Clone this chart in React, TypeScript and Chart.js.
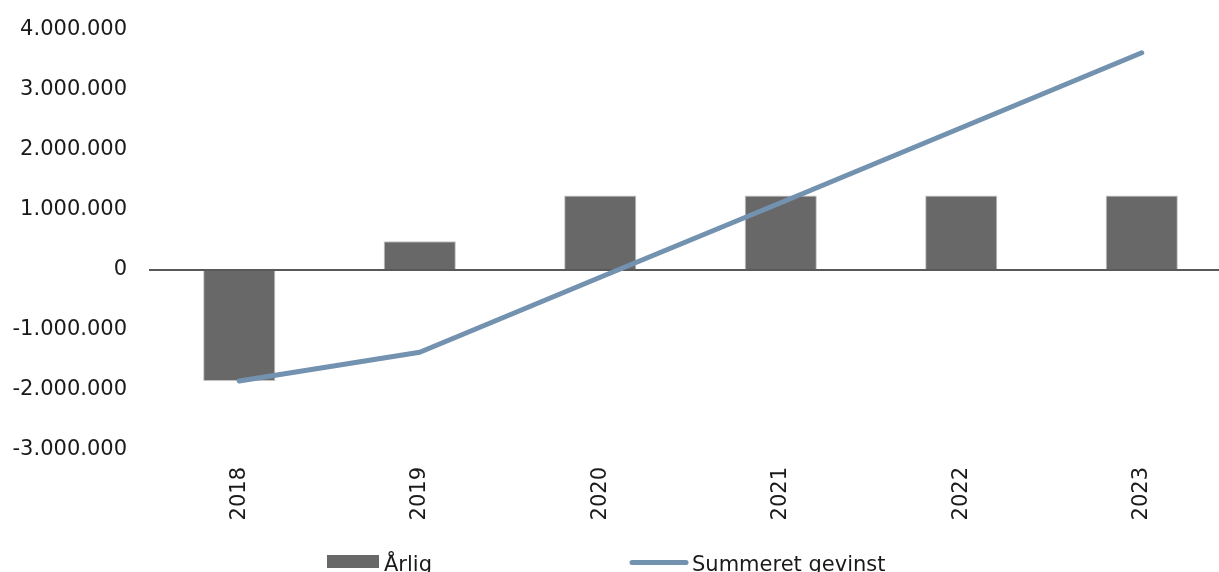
import React, { useEffect, useRef } from 'react';
import { Chart, registerables } from 'chart.js';

Chart.register(...registerables);

const categories = ['2018', '2019', '2020', '2021', '2022', '2023'];
const annualValues = [-1850000, 480000, 1240000, 1240000, 1240000, 1240000];
const cumulativeValues = [-1850000, -1370000, -120000, 1120000, 2370000, 3620000];
const seriesLabels = ['Årlig', 'Summeret gevinst'];
const yMin = -3000000;
const yMax = 4000000;
const yStep = 1000000;

const FONT = 'DejaVu Sans';
const TEXT = '#1a1a1a';
const BAR_COLOR = '#686868';
const LINE_COLOR = '#7392b0';

const fmt = (v: number) => String(v).replace(/\B(?=(\d{3})+(?!\d))/g, '.');

const legendPlugin = {
  id: 'customLegend',
  afterDraw(chart: any) {
    const ctx = chart.ctx as CanvasRenderingContext2D;
    ctx.save();
    ctx.font = `21px "${FONT}"`;
    ctx.fillStyle = TEXT;
    ctx.textBaseline = 'alphabetic';
    let x = 327;
    ctx.fillStyle = BAR_COLOR;
    ctx.fillRect(x, 555, 52, 13);
    x += 57;
    ctx.fillStyle = TEXT;
    ctx.fillText(chart.data.datasets[0].label, x, 571);
    x = 632;
    ctx.strokeStyle = LINE_COLOR;
    ctx.lineWidth = 5;
    ctx.lineCap = 'round';
    ctx.beginPath();
    ctx.moveTo(x, 562.5);
    ctx.lineTo(x + 54, 562.5);
    ctx.stroke();
    ctx.fillText(chart.data.datasets[1].label, 692, 571);
    ctx.restore();
  },
};

export default function App() {
  const ref = useRef<HTMLCanvasElement>(null);

  useEffect(() => {
    document.body.style.margin = '0';
    document.body.style.overflow = 'hidden';
    const canvas = ref.current!;
    const chart = new Chart(canvas, {
      type: 'bar',
      data: {
        labels: categories,
        datasets: [
          {
            type: 'bar',
            label: seriesLabels[0],
            data: annualValues,
            backgroundColor: BAR_COLOR,
            borderColor: '#c4c4c4',
            borderWidth: 1,
            barPercentage: 0.4,
            categoryPercentage: 1,
            order: 1,
          },
          {
            type: 'line',
            label: seriesLabels[1],
            data: cumulativeValues,
            borderColor: LINE_COLOR,
            borderWidth: 5,
            borderCapStyle: 'round',
            borderJoinStyle: 'round',
            pointRadius: 0,
            tension: 0,
            fill: false,
            order: 0,
          } as any,
        ],
      },
      options: {
        animation: false,
        responsive: false,
        devicePixelRatio: 1,
        layout: { padding: { top: 30, left: 0, right: 0, bottom: 0 } },
        plugins: {
          legend: { display: false },
          tooltip: { enabled: false },
        },
        scales: {
          x: {
            grid: { display: false, drawTicks: false },
            border: { display: false },
            ticks: {
              minRotation: 90,
              maxRotation: 90,
              padding: 17,
              color: TEXT,
              font: { family: FONT, size: 21 },
            },
            afterFit: (s: any) => {
              s.height = 122;
            },
          },
          y: {
            min: yMin,
            max: yMax,
            border: { display: false },
            grid: {
              drawTicks: false,
              lineWidth: 2,
              color: (c: any) => (c.tick && c.tick.value === 0 ? '#595959' : 'rgba(0,0,0,0)'),
            },
            ticks: {
              stepSize: yStep,
              padding: 22,
              color: TEXT,
              font: { family: FONT, size: 21 },
              callback: (v: any) => fmt(Number(v)),
            },
            afterFit: (s: any) => {
              s.width = 149;
              s.paddingTop = 0;
              s.paddingBottom = 0;
            },
          },
        },
      },
      plugins: [legendPlugin],
    });
    return () => chart.destroy();
  }, []);

  return (
    <div style={{ position: 'relative', width: 1219, height: 572, overflow: 'hidden', background: '#fff' }}>
      <canvas ref={ref} width={1232} height={572} style={{ width: 1232, height: 572, display: 'block' }} />
    </div>
  );
}
